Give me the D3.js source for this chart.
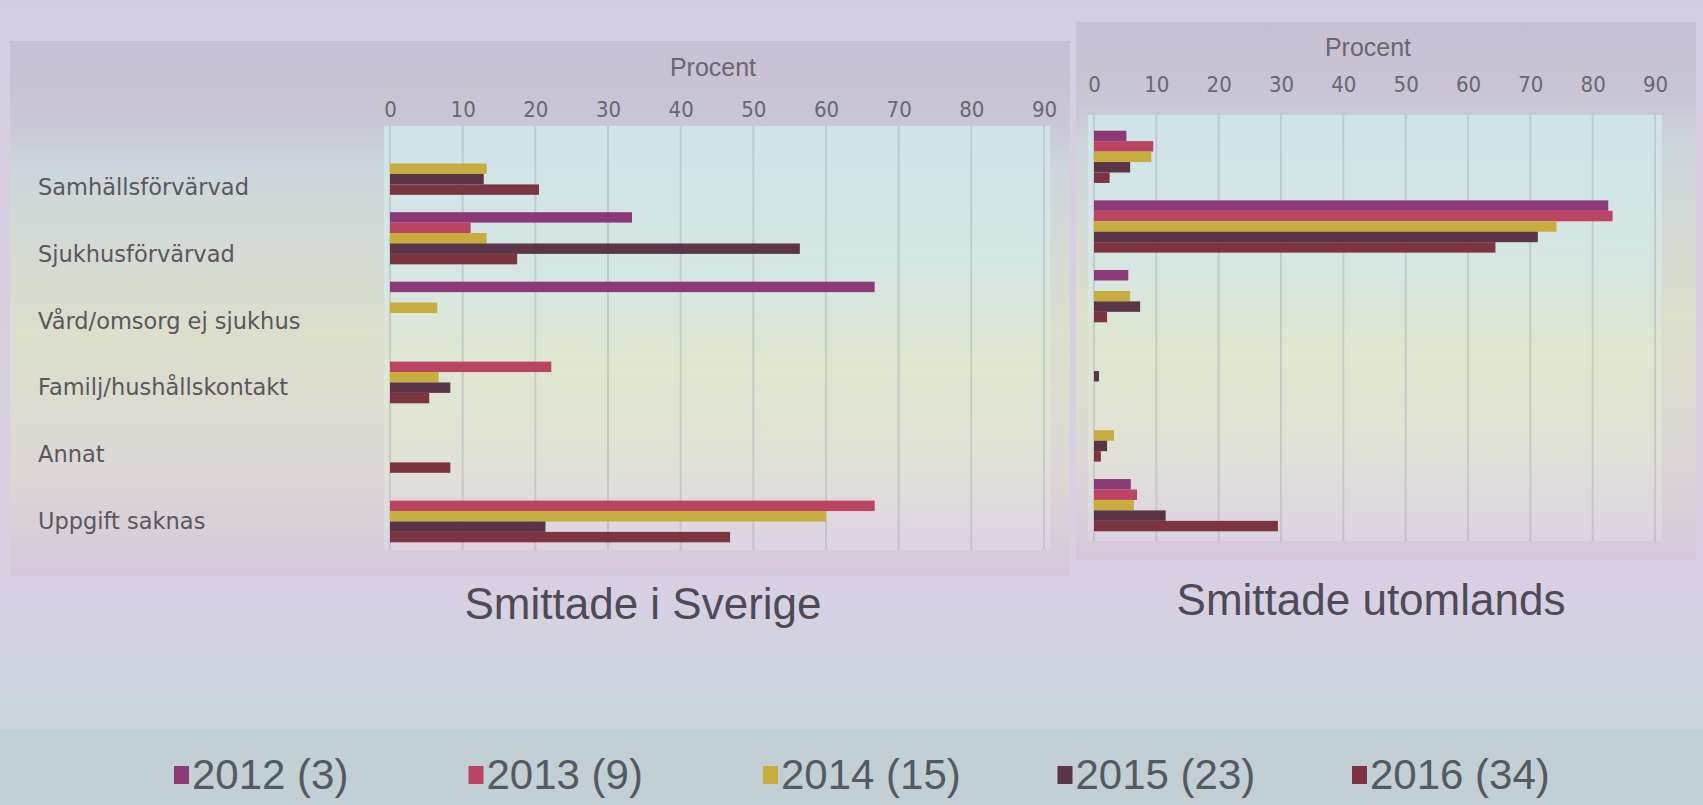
<!DOCTYPE html>
<html><head><meta charset="utf-8">
<script src="https://cdn.jsdelivr.net/npm/d3@7"></script>
<style>
html,body{margin:0;padding:0;background:#d6cfe0;}
svg{display:block;}
</style>
</head><body>
<svg id="chart" width="1703" height="805"></svg>
<script>
// ---------- DATA ----------
const categories = ["Samhällsförvärvad","Sjukhusförvärvad","Vård/omsorg ej sjukhus","Familj/hushållskontakt","Annat","Uppgift saknas"];
const seriesNames = ["2012 (3)","2013 (9)","2014 (15)","2015 (23)","2016 (34)"];
const seriesColors = ["#8b3a77","#bb4463","#c7ad3d","#5a3548","#7b3440"];
const tickValues = [0,10,20,30,40,50,60,70,80,90];
const axisTitle = "Procent";
const panelTitles = ["Smittade i Sverige","Smittade utomlands"];

// Smittade i Sverige (percent)
const sverige2012 = [0, 33.3, 66.7, 0, 0, 0];
const sverige2013 = [0, 11.1, 0, 22.2, 0, 66.7];
const sverige2014 = [13.3, 13.3, 6.5, 6.7, 0, 60.0];
const sverige2015 = [12.9, 56.4, 0, 8.3, 0, 21.4];
const sverige2016 = [20.5, 17.5, 0, 5.4, 8.3, 46.8];

// Smittade utomlands (percent)
const utomlands2012 = [5.2, 82.5, 5.5, 0, 0, 5.9];
const utomlands2013 = [9.5, 83.2, 0, 0, 0, 6.9];
const utomlands2014 = [9.2, 74.2, 5.8, 0, 3.2, 6.4];
const utomlands2015 = [5.8, 71.2, 7.4, 0.8, 2.1, 11.5];
const utomlands2016 = [2.5, 64.4, 2.1, 0, 1.1, 29.5];

const sverige = [sverige2012, sverige2013, sverige2014, sverige2015, sverige2016];
const utomlands = [utomlands2012, utomlands2013, utomlands2014, utomlands2015, utomlands2016];

// ---------- DRAW ----------
const svg = d3.select("#chart");
const defs = svg.append("defs");

function grad(id, stops){
  const g = defs.append("linearGradient").attr("id", id).attr("x1",0).attr("y1",0).attr("x2",0).attr("y2",1);
  stops.forEach(s => g.append("stop").attr("offset", s[0]).attr("stop-color", s[1]));
}
grad("pageBg", [[0,"#d5cde1"],[0.45,"#d8d0e0"],[0.72,"#d9cfe3"],[0.86,"#cdd6df"],[1,"#c6d3d9"]]);
grad("panelBg", [[0,"#c8c0d3"],[0.15,"#c9c6d5"],[0.23,"#cdd6dc"],[0.55,"#dcdfcc"],[0.8,"#ddd8d6"],[1,"#d5c8db"]]);
grad("plotBg", [[0,"#cfe4e9"],[0.35,"#d6e6e2"],[0.55,"#e0e7d1"],[0.78,"#e1e2d6"],[1,"#ddd3e4"]]);

svg.append("rect").attr("width",1703).attr("height",805).attr("fill","url(#pageBg)");

// legend band
svg.append("rect").attr("x",0).attr("y",729).attr("width",1703).attr("height",72).attr("fill","#c2cfd4");

const sansNarrow = "'Liberation Sans Narrow','DejaVu Sans Condensed','Liberation Sans',sans-serif";
const sans = "'Liberation Sans',Arial,sans-serif";

function drawPanel(cfg){
  const g = svg.append("g");
  g.append("rect").attr("x",cfg.panel[0]).attr("y",cfg.panel[1]).attr("width",cfg.panel[2]).attr("height",cfg.panel[3])
    .attr("fill","url(#panelBg)");
  g.append("rect").attr("x",cfg.plot[0]).attr("y",cfg.plot[1]).attr("width",cfg.plot[2]).attr("height",cfg.plot[3])
    .attr("fill","url(#plotBg)");

  const x = d3.scaleLinear().domain([0,90]).range(cfg.xRange);
  const y0 = d3.scaleBand().domain(categories).range(cfg.yRange).paddingInner(0.25).paddingOuter(0.125);
  const y1 = d3.scaleBand().domain(seriesNames).range([0, y0.bandwidth()]);
  const color = d3.scaleOrdinal().domain(seriesNames).range(seriesColors);

  // gridlines
  g.append("g").selectAll("line").data(tickValues).join("line")
    .attr("x1", d => x(d)).attr("x2", d => x(d))
    .attr("y1", cfg.plot[1]).attr("y2", cfg.plot[1] + cfg.plot[3])
    .attr("stroke", "#a9b4b8").attr("stroke-opacity", 0.5).attr("stroke-width", 2);

  // bars
  const rows = [];
  cfg.data.forEach((arr, si) => arr.forEach((v, ci) => rows.push({s: seriesNames[si], c: categories[ci], v})));
  g.append("g").selectAll("rect").data(rows.filter(d => d.v > 0)).join("rect")
    .attr("x", x(0))
    .attr("y", d => y0(d.c) + y1(d.s))
    .attr("width", d => x(d.v) - x(0))
    .attr("height", y1.bandwidth())
    .attr("fill", d => color(d.s));

  // top axis
  const ax = g.append("g").attr("transform", `translate(0,${cfg.axisY})`)
    .call(d3.axisTop(x).tickValues(tickValues).tickSize(0).tickPadding(3));
  ax.select(".domain").remove();
  ax.selectAll("text").attr("font-family", sansNarrow).attr("font-size", 22).attr("fill", "#6b6670");

  g.append("text").attr("x", cfg.procent[0]).attr("y", cfg.procent[1]).attr("text-anchor","middle")
    .attr("font-family", sans).attr("font-size", 25).attr("fill", "#6b6670").text(axisTitle);

  if (cfg.labels){
    const yl = d3.scalePoint().domain(categories).range(cfg.labelRange);
    g.append("g").selectAll("text").data(categories).join("text")
      .attr("x", 38).attr("y", d => yl(d))
      .attr("dominant-baseline","central")
      .attr("font-family","'DejaVu Sans',Verdana,sans-serif").attr("font-size", 22.5)
      .attr("fill","#5a575c").text(d => d);
  }

  g.append("text").attr("x", cfg.title[0]).attr("y", cfg.title[1]).attr("text-anchor","middle")
    .attr("font-family", sans).attr("font-size", 44).attr("fill","#4f4a55").text(cfg.titleText);
}

drawPanel({
  panel:[10,41,1060,535], plot:[384,126,666,424],
  xRange:[390,1044], yRange:[134,551], axisY:120, procent:[713,76],
  data: sverige, labels: true, labelRange:[187,521], title:[643,619], titleText: panelTitles[0]
});
drawPanel({
  panel:[1076,22,620,538], plot:[1088,115,574,426],
  xRange:[1094,1655], yRange:[122,540], axisY:95, procent:[1368,56],
  data: utomlands, labels: false, title:[1371,615], titleText: panelTitles[1]
});

// legend
const lx = d3.scalePoint().domain(seriesNames).range([174,1352]);
const lg = svg.append("g").selectAll("g").data(seriesNames).join("g")
  .attr("transform", d => `translate(${lx(d)},0)`);
lg.append("rect").attr("x",0).attr("y",766).attr("width",15).attr("height",18).attr("fill", (d,i) => seriesColors[i]);
lg.append("text").attr("x",18).attr("y",789).attr("font-family", sans).attr("font-size", 42)
  .attr("fill","#555a60").text(d => d);
</script>
</body></html>
